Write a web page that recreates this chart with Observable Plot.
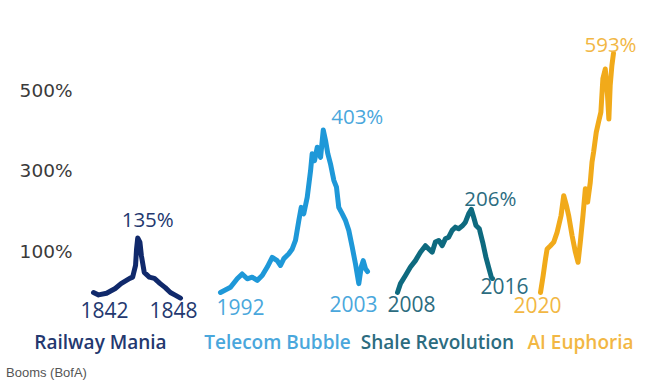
<!DOCTYPE html>
<html><head><meta charset="utf-8">
<script src="https://cdn.jsdelivr.net/npm/d3@7"></script>
<script src="https://cdn.jsdelivr.net/npm/@observablehq/plot@0.6"></script>
<style>
body{margin:0;background:#fff;}
#chart{width:663px;height:389px;position:relative;overflow:hidden;background:#fff}
#caption{padding-left:6px;font:13px "Liberation Sans",Arial,sans-serif;color:#555;line-height:18px}
</style></head><body><div id="chart"></div>
<script>
// ---- data ----
const seriesNames = ["Railway Mania", "Telecom Bubble", "Shale Revolution", "AI Euphoria"];
const startYears = [1842, 1992, 2008, 2020];
const endYears = [1848, 2003, 2016, 2025.5];
const peakText = ["135%", "403%", "206%", "593%"];
const yTicks = [100, 300, 500];

const railwayYears = [1842.0, 1842.35, 1842.9, 1843.5, 1843.9, 1844.5, 1844.7, 1844.9, 1844.97, 1845.05, 1845.2, 1845.3, 1845.5, 1845.85, 1846.2, 1846.6, 1846.95, 1847.3, 1847.6, 1848.0];
const railwayValues = [0, -6, -2, 10, 22, 35, 38, 67, 108, 135, 125, 92, 50, 38, 35, 22, 12, 0, -6, -14];

const telecomYears = [1992.0, 1992.75, 1993.25, 1993.62, 1994.0, 1994.37, 1994.75, 1995.12, 1995.5, 1995.87, 1996.24, 1996.49, 1996.74, 1997.11, 1997.37, 1997.61, 1997.86, 1998.04, 1998.23, 1998.49, 1998.74, 1998.86, 1999.04, 1999.24, 1999.49, 1999.69, 1999.86, 2000.03, 2000.23, 2000.48, 2000.68, 2000.85, 2001.11, 2001.36, 2001.6, 2001.86, 2002.1, 2002.35, 2002.53, 2002.68, 2002.85, 2003.0];
const telecomValues = [0, 13, 34, 46, 34, 38, 30, 42, 63, 87, 79, 67, 84, 96, 108, 129, 178, 211, 195, 236, 302, 344, 327, 360, 335, 403, 377, 344, 319, 278, 261, 211, 195, 178, 154, 112, 71, 22, 63, 79, 59, 52];

const shaleYears = [2008.0, 2008.25, 2008.67, 2009.09, 2009.51, 2009.93, 2010.35, 2010.63, 2010.92, 2011.19, 2011.47, 2011.76, 2012.03, 2012.31, 2012.6, 2012.87, 2013.15, 2013.49, 2013.71, 2013.99, 2014.22, 2014.41, 2014.61, 2014.89, 2015.17, 2015.45, 2015.67, 2015.9, 2016.0];
const shaleValues = [0, 22, 42, 63, 79, 100, 116, 108, 100, 125, 129, 116, 133, 137, 154, 162, 158, 166, 174, 195, 206, 187, 166, 158, 125, 87, 63, 38, 35];

const aiYears = [2020.0, 2020.2, 2020.38, 2020.5, 2020.75, 2021.0, 2021.25, 2021.55, 2021.75, 2021.95, 2022.12, 2022.38, 2022.63, 2022.83, 2023.0, 2023.2, 2023.38, 2023.55, 2023.75, 2023.88, 2024.0, 2024.2, 2024.37, 2024.55, 2024.7, 2024.88, 2025.05, 2025.15, 2025.25, 2025.38, 2025.5];
const aiValues = [0, 42, 84, 108, 116, 125, 149, 191, 240, 216, 191, 141, 100, 75, 125, 191, 257, 224, 273, 323, 348, 397, 422, 447, 530, 554, 488, 430, 513, 563, 593];

// ---- styles / layout ----
const lineColors = ["#10296b", "#1e98d8", "#0e6a7f", "#f1aa1a"];
const textColors = ["#23386f", "#4aa7dc", "#2c6c7f", "#f2b744"];
const font = "'Open Sans', 'Noto Sans', sans-serif";
// pixel slots for each boom's time span (broken time axis)
const xRange = [93, 180, 220, 367, 397, 492, 540, 613];

const allYears = [railwayYears, telecomYears, shaleYears, aiYears];
const allValues = [railwayValues, telecomValues, shaleValues, aiValues];
const rows = [];
seriesNames.forEach((s, i) => allYears[i].forEach((yr, j) => rows.push({series: s, year: yr, value: allValues[i][j]})));

const xDomain = [];
startYears.forEach((s, i) => { xDomain.push(s, endYears[i]); });

const marks = [
  Plot.axisY(yTicks, {tickSize: 0, tickPadding: 3, tickFormat: d => d + "%", fontSize: 18.5, fill: "#3a3a3a", fontFamily: "'DejaVu Sans', sans-serif"}),
  Plot.line(rows, {x: "year", y: "value", z: "series", stroke: "series", strokeWidth: 5, strokeLinejoin: "round", strokeLinecap: "round"})
];

// peak labels
const peakOffsets = [[10, -18], [34, -12], [19, -10], [-3, -8]];
seriesNames.forEach((s, i) => {
  const vals = allValues[i];
  let k = 0; vals.forEach((v, j) => { if (v > vals[k]) k = j; });
  marks.push(Plot.text([{x: allYears[i][k], y: vals[k], t: peakText[i]}], {x: "x", y: "y", text: "t", fill: textColors[i], fontSize: 20.5, fontFamily: font, dx: peakOffsets[i][0], dy: peakOffsets[i][1]}));
});

// start/end year labels
const yearOffsets = [[[11, 19], [-7, 13]], [[20, 16], [-14, 34]], [[14, 13], [12, 9]], [[-3, 14]]];
seriesNames.forEach((s, i) => {
  const ys = allYears[i], vs = allValues[i];
  const ends = [[ys[0], vs[0], String(startYears[i])]];
  if (i < 3) ends.push([ys[ys.length - 1], vs[vs.length - 1], String(endYears[i])]);
  ends.forEach((e, j) => {
    marks.push(Plot.text([{x: e[0], y: e[1], t: e[2]}], {x: "x", y: "y", text: "t", fill: textColors[i], fontSize: 21, fontFamily: font, dx: yearOffsets[i][j][0], dy: yearOffsets[i][j][1]}));
  });
});

// boom names
const nameDx = [7, 57, 40, 40];
seriesNames.forEach((s, i) => {
  marks.push(Plot.text([{x: startYears[i], t: s}], {x: "x", y: () => -126, text: "t", fill: textColors[i], fontSize: 19, fontWeight: 600, fontFamily: font, dx: nameDx[i]}));
});

const chart = Plot.plot({
  width: 663,
  height: 364,
  marginLeft: 75,
  x: {type: "linear", domain: xDomain, range: xRange, axis: null},
  y: {domain: [0, 500], range: [292, 90.3], axis: null},
  color: {domain: seriesNames, range: lineColors},
  style: {background: "#fff", fontFamily: font},
  marks
});
const box = document.getElementById("chart");
box.appendChild(chart);
const cap = document.createElement("div");
cap.id = "caption";
cap.textContent = "Booms (BofA)";
box.appendChild(cap);
</script></body></html>
